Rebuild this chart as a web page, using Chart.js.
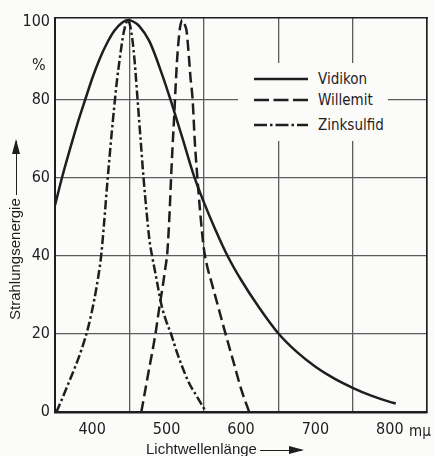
<!DOCTYPE html>
<html>
<head>
<meta charset="utf-8">
<script src="https://cdn.jsdelivr.net/npm/chart.js@4.4.1/dist/chart.umd.min.js"></script>
<style>
    html, body { margin: 0; padding: 0; background: #fbfbfa; }
    #wrap { position: relative; width: 435px; height: 456px; overflow: hidden; color: #1e1e1e;
            font-family: "Liberation Sans", Arial, sans-serif; }
    #chart { position: absolute; left: 0; top: 0; }
    .narrow { font-family: "DejaVu Sans Condensed", "Liberation Sans", sans-serif; }
    #legend { position: absolute; left: 238px; top: 63px; width: 150px; height: 78px; background: #fbfbfa; }
    #legend .row { position: absolute; left: 0; height: 20px; white-space: nowrap; }
    #legend svg { position: absolute; left: 16px; top: 0; }
    #legend span { position: absolute; left: 80px; top: 0; font-size: 15px; line-height: 20px; }
    #pct { position: absolute; left: 32px; top: 55px; font-size: 16px; line-height: 20px; }
    #unit { position: absolute; left: 409px; top: 421px; font-size: 15px; line-height: 20px; }
    #ytitle { position: absolute; left: 6px; top: 320px; line-height: 18px; font-size: 15px; white-space: nowrap;
              transform-origin: 0 0; transform: rotate(-90deg); }
    #xtitle { position: absolute; left: 146px; top: 440px; line-height: 18px; font-size: 15px; white-space: nowrap; }
    .arr { display: inline-block; position: relative; height: 0; border-top: 1.6px solid #1e1e1e; vertical-align: middle; margin-left: 3px; }
    .arr::after { content: ''; position: absolute; right: -2px; top: -4.8px; border-left: 15px solid #1e1e1e;
                  border-top: 4px solid transparent; border-bottom: 4px solid transparent; }
</style>
</head>
<body>
<div id="wrap">
    <canvas id="chart" width="435" height="456"></canvas>
    <div id="legend"></div>
    <div id="pct" class="narrow">%</div>
    <div id="unit" class="narrow">mµ</div>
    <div id="ytitle">Strahlungsenergie<span class="arr" style="width:54px"></span></div>
    <div id="xtitle">Lichtwellenlänge<span class="arr" style="width:42px"></span></div>
</div>
<script>
const INK = '#1e1e1e';
const GRID = '#5c5c5c';
const NARROW = '"DejaVu Sans Condensed", "Liberation Sans", sans-serif';

// Wellenlänge in mµ, relative Strahlungsenergie in %
const vidikonX = [350, 360, 370, 380, 391, 400, 410, 420, 430, 440, 448, 455, 463, 477, 494, 506, 521, 537,
                  550, 565, 582, 600, 625, 650, 675, 700, 725, 750, 775, 800, 808];
const vidikonY = [53, 60.5, 67.3, 73.8, 80.3, 85.5, 90.5, 94.6, 97.8, 99.8, 100.5, 100.1, 99, 95, 86.5, 79.6, 70.4, 60.4,
                  53.8, 47, 40, 33.9, 26.6, 20.2, 15.4, 11.6, 8.6, 6.2, 4.2, 2.6, 2.2];

const willemitX = [466, 475, 485, 490, 495, 498, 501, 504, 506, 508, 510, 512, 514, 516, 518, 521, 523, 525,
                   527, 530, 532, 535, 538, 541, 545, 550, 555, 560, 570, 580, 590, 600, 611];
const willemitY = [0, 9.5, 20, 26.5, 32.5, 36.5, 41, 51, 60, 68, 75, 83, 90, 95, 98.5, 100.5, 100, 99,
                   97.5, 91, 86, 80, 69, 61, 51.5, 42, 37, 33.5, 26.5, 19.5, 12.8, 6, 0];

const zinkX = [352, 360, 368, 377, 386, 395, 403, 408, 412, 416, 420, 425, 430, 433, 437, 442, 445, 448,
               451, 454, 457, 461, 465, 469, 473, 477, 481, 484, 487, 493, 500, 506, 513, 521, 530, 541, 553];
const zinkY = [0, 3.6, 7.3, 11.5, 16.2, 22, 29, 34.5, 40, 48.5, 58, 69, 79, 84.5, 90.5, 97, 99.3, 100.5,
               99, 95.5, 90, 80, 70, 60, 51.5, 44, 39.5, 36.5, 33.5, 27.5, 23, 20, 15.8, 11.6, 7.5, 3.9, 0];

const seriesNames = ['Vidikon', 'Willemit', 'Zinksulfid'];
const seriesDash = [[], [11, 5], [9, 3, 2.5, 3]];
const legendDash = [[], [15, 4.5], [13, 3, 2.5, 3]];

const xTickValues = [350, 400, 450, 500, 550, 600, 650, 700, 750, 800, 850];
const xGridValues = [350, 450, 550, 650, 750, 850];
const xLabelValues = [400, 500, 600, 700, 800];
const yTickValues = [0, 20, 40, 60, 80, 100];

function toPoints(xs, ys) {
    return xs.map((x, i) => ({ x: x, y: ys[i] }));
}

const seriesData = [toPoints(vidikonX, vidikonY), toPoints(willemitX, willemitY), toPoints(zinkX, zinkY)];

const datasets = seriesNames.map((name, i) => ({
    label: name,
    data: seriesData[i],
    borderColor: INK,
    borderWidth: 2.5,
    borderDash: seriesDash[i],
    pointRadius: 0,
    fill: false,
    cubicInterpolationMode: 'monotone'
}));

const chart = new Chart(document.getElementById('chart').getContext('2d'), {
    type: 'line',
    data: { datasets: datasets },
    options: {
        responsive: false,
        animation: false,
        devicePixelRatio: 1,
        layout: { padding: { top: 18, right: 6, left: 0, bottom: 0 } },
        plugins: { legend: { display: false }, tooltip: { enabled: false } },
        scales: {
            x: {
                type: 'linear',
                min: 350,
                max: 850,
                afterBuildTicks: s => { s.ticks = xTickValues.map(v => ({ value: v })); },
                afterFit: s => { s.height = 44; },
                ticks: {
                    autoSkip: false,
                    maxRotation: 0,
                    padding: 8,
                    color: INK,
                    font: { family: NARROW, size: 16 },
                    callback: v => xLabelValues.includes(v) ? String(v) : ''
                },
                grid: {
                    drawTicks: false,
                    lineWidth: 1.3,
                    color: c => (c.tick && xGridValues.includes(c.tick.value)) ? GRID : 'rgba(0,0,0,0)'
                },
                border: { display: true, color: INK, width: 2.5 }
            },
            y: {
                min: 0,
                max: 101,
                afterBuildTicks: s => { s.ticks = yTickValues.map(v => ({ value: v })); },
                afterFit: s => { s.width = 55; },
                ticks: {
                    padding: 5,
                    color: INK,
                    font: { family: NARROW, size: 16 }
                },
                grid: {
                    drawTicks: false,
                    lineWidth: 1.3,
                    color: c => (c.tick && c.tick.value > 0 && c.tick.value < 100) ? GRID : 'rgba(0,0,0,0)'
                },
                border: { display: true, color: INK, width: 2 }
            },
            x2: {
                type: 'linear', position: 'top', min: 350, max: 850,
                afterFit: s => { s.height = 0; },
                ticks: { display: false }, grid: { display: false },
                border: { display: true, color: INK, width: 1.6 }
            },
            y2: {
                type: 'linear', position: 'right', min: 0, max: 101,
                afterFit: s => { s.width = 0; },
                ticks: { display: false }, grid: { display: false },
                border: { display: true, color: INK, width: 1.6 }
            }
        }
    }
});

// Legende im Diagramm (heller Kasten unterbricht das Gitter)
function buildLegend(chart) {
    const box = document.getElementById('legend');
    const rowTop = [6, 27, 52];
    chart.data.datasets.forEach((ds, i) => {
        const row = document.createElement('div');
        row.className = 'row';
        row.style.top = rowTop[i] + 'px';
        const dash = legendDash[i].length ? `stroke-dasharray="${legendDash[i].join(' ')}"` : '';
        row.innerHTML = `
            <svg width="56" height="20"><line x1="0" y1="10" x2="54" y2="10" stroke="${ds.borderColor}" stroke-width="2.4" ${dash}/></svg>
            <span class="narrow">${ds.label}</span>`;
        box.appendChild(row);
    });
}
buildLegend(chart);
</script>
</body>
</html>
